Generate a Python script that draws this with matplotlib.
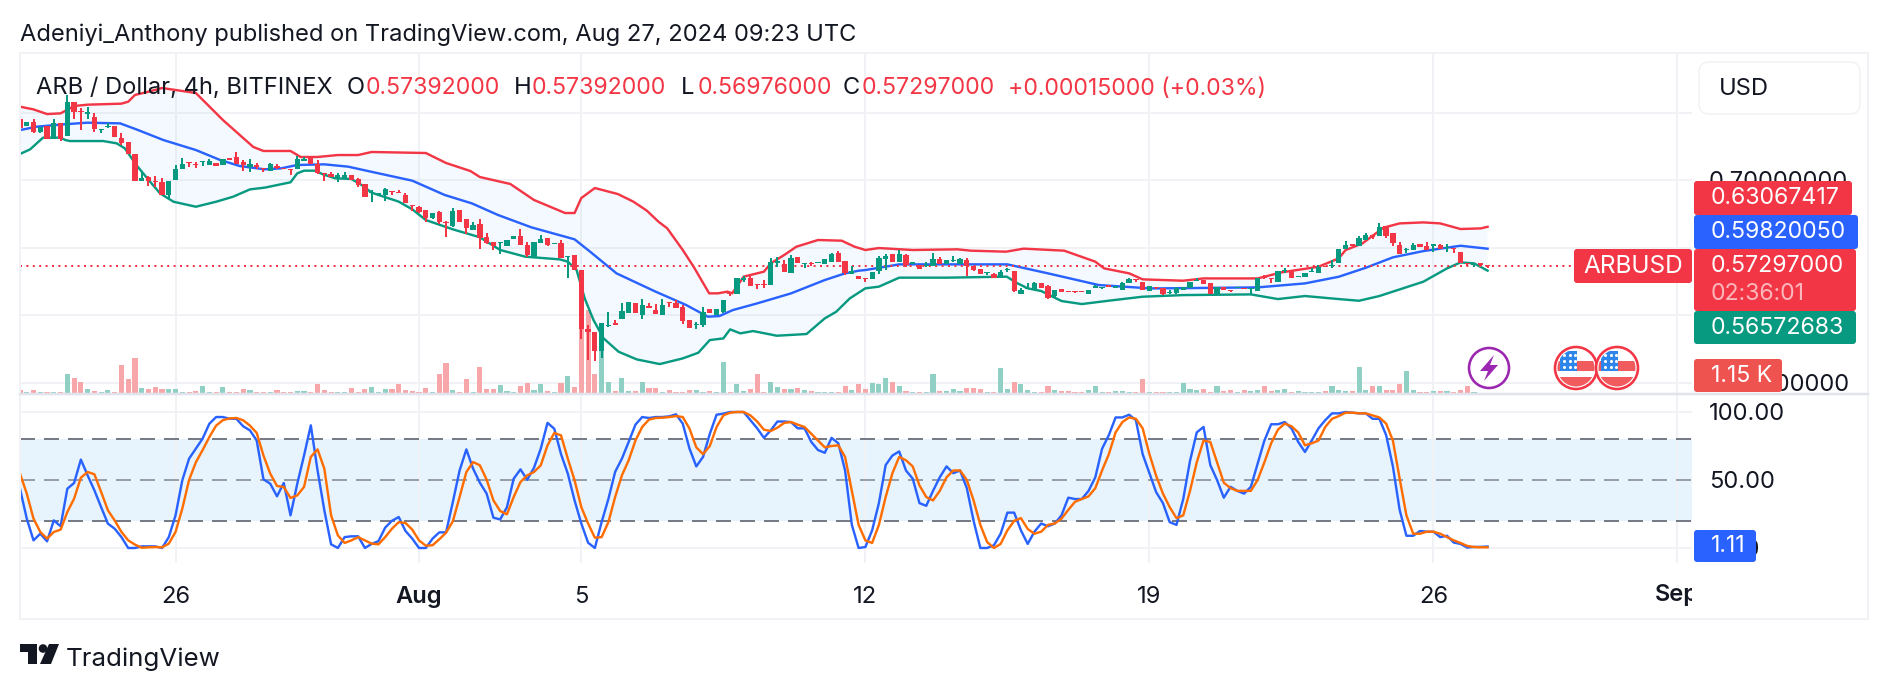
import matplotlib
matplotlib.use("Agg")
import matplotlib.pyplot as plt
import numpy as np
from matplotlib.patches import Circle, FancyBboxPatch, Polygon, Rectangle

plt.rcParams['font.family'] = ['Inter', 'DejaVu Sans']

# ---------- 4h candles, ARB / Dollar ----------
opens = [
 .7898,.78,.7854,.7716,.78,.7602,.7849,.7656,.8155,.8017,
 .7977,.7928,.7745,.778,.78,.7617,.7563,.7385,.6989,.7039,
 .6989,.6965,.6777,.6999,.7157,.7261,.7236,.7261,.7226,.7251,
 .7226,.732,.7335,.7271,.7187,.7222,.7182,.7134,.7208,.7183,
 .7158,.7158,.7287,.7336,.7237,.7109,.7094,.7035,.7025,.7074,
 .701,.6941,.6803,.6783,.6783,.6842,.6822,.6783,.663,.6605,
 .6556,.6442,.6531,.6378,.6318,.6556,.6417,.6259,.6348,.6151,
 .6086,.6062,.6027,.6121,.6165,.6032,.5854,.6062,.6136,.6047,
 .6062,.5854,.5888,.5666,.4792,.4752,.4466,.4836,.4881,.494,
 .5034,.5172,.5,.5138,.5073,.5,.5197,.5177,.5113,.492,
 .4846,.4846,.5083,.5,.5049,.533,.531,.5518,.5553,.5464,
 .5459,.5444,.5775,.575,.5627,.5859,.575,.577,.5765,.576,
 .579,.5913,.5795,.5612,.5572,.5553,.5528,.5656,.5824,.5898,
 .579,.5889,.575,.5745,.5726,.5726,.5829,.5755,.5795,.576,
 .5814,.5726,.5681,.5617,.5612,.5543,.5661,.5651,.5316,.538,
 .538,.5474,.5429,.5286,.5385,.5355,.536,.535,.5316,.5395,
 .5395,.5444,.5395,.5375,.5479,.5528,.5493,.536,.5419,.5399,
 .533,.532,.5365,.5399,.5498,.5523,.5468,.5305,.5419,.5374,
 .5394,.5394,.5384,.536,.5567,.5547,.5493,.5646,.5656,.5557,
 .5567,.5636,.5626,.573,.5725,.5775,.5977,.6046,.6026,.6115,
 .6185,.6175,.6313,.6214,.6036,.5962,.5962,.6051,.6022,.6026,
 .6036,.5997,.5992,.5938,.5775,.574,.5765,.57392]
highs = [
 .7913,.7859,.7898,.779,.78,.7898,.7849,.826,.8155,.806,
 .8076,.7987,.776,.7839,.78,.7691,.7563,.7385,.7108,.7059,
 .7059,.7024,.6989,.7217,.732,.7261,.7266,.7276,.7305,.7251,
 .7315,.732,.7414,.7296,.7305,.7246,.7182,.7247,.7237,.7183,
 .7158,.7356,.7336,.7336,.7297,.7109,.7124,.7099,.7114,.7074,
 .7035,.6941,.6852,.6812,.6887,.6842,.6852,.6812,.663,.662,
 .6556,.6506,.6546,.6397,.6585,.6556,.6417,.6383,.6417,.621,
 .6086,.6076,.6111,.6165,.6269,.6086,.6081,.6185,.6136,.6071,
 .6111,.5874,.5888,.5666,.4851,.4752,.4876,.5039,.4925,.5172,
 .5187,.5172,.5231,.5182,.5162,.5231,.5197,.5222,.5143,.492,
 .49,.5113,.5083,.5088,.5217,.533,.5543,.5582,.5577,.5464,
 .5518,.5839,.5854,.5814,.5888,.5859,.5765,.579,.5785,.5829,
 .5923,.5953,.5795,.5726,.5572,.5553,.5642,.5869,.5903,.5898,
 .5963,.5903,.578,.5745,.578,.5913,.5854,.581,.5869,.5849,
 .5849,.5726,.5681,.5637,.5627,.5666,.5701,.5651,.5404,.5469,
 .5493,.5474,.5444,.5365,.5385,.5355,.536,.535,.537,.5444,
 .5409,.5444,.5429,.5484,.5553,.5528,.5493,.5429,.5419,.5399,
 .5374,.5414,.5414,.5493,.5542,.5523,.5468,.5419,.5419,.5374,
 .5414,.5394,.5404,.5552,.5592,.5547,.5646,.5691,.5656,.5577,
 .5617,.5691,.574,.573,.5814,.5972,.6096,.6046,.617,.6209,
 .6185,.6357,.6313,.6214,.6076,.5997,.6066,.6051,.6086,.6046,
 .6051,.6046,.5992,.5938,.5775,.5775,.5765,.57392]
lows = [
 .775,.78,.7691,.7691,.7602,.7602,.7577,.7656,.7898,.774,
 .7908,.7711,.7701,.7765,.7631,.7518,.7385,.6989,.6989,.691,
 .6891,.6772,.6728,.6999,.7157,.7197,.7172,.7207,.7226,.7212,
 .7226,.73,.7236,.7137,.7118,.7157,.7113,.7134,.7158,.7168,
 .7074,.7158,.7287,.7237,.7084,.6985,.704,.6975,.7025,.7,
 .6901,.6753,.6669,.6763,.6689,.6778,.6803,.6654,.6546,.6516,
 .6383,.6427,.6348,.616,.6299,.6383,.62,.6259,.5982,.6052,
 .5963,.5899,.6027,.6121,.6042,.5864,.5854,.6062,.6022,.6047,
 .584,.5553,.5666,.4644,.4332,.4323,.4367,.4817,.4856,.494,
 .5034,.5024,.4945,.5108,.5019,.5,.5113,.5103,.4866,.4812,
 .4797,.4826,.5034,.5,.5024,.5286,.531,.5493,.5434,.538,
 .5404,.5444,.5716,.5641,.5627,.5775,.5701,.5725,.5765,.576,
 .579,.579,.5592,.5607,.5528,.5493,.5528,.5612,.5666,.579,
 .579,.5716,.575,.5686,.5716,.5726,.576,.5755,.579,.576,
 .5582,.5651,.5607,.5592,.5543,.5543,.5642,.5345,.5316,.538,
 .538,.5404,.5236,.5246,.5345,.5335,.533,.5335,.5316,.5395,
 .538,.5409,.5395,.5375,.5479,.5484,.537,.536,.538,.5295,
 .5305,.5305,.5365,.5399,.5498,.5454,.5315,.5305,.537,.534,
 .5394,.538,.5305,.536,.5528,.5478,.5493,.5617,.5552,.5557,
 .5567,.5636,.5626,.5715,.5691,.5775,.5977,.6026,.6026,.6115,
 .6125,.6175,.6145,.6022,.5903,.5913,.5962,.6002,.5962,.5938,
 .5972,.5938,.5913,.5765,.5725,.5715,.5725,.56976]
closes = [
 .7765,.7859,.7716,.779,.7602,.7849,.7602,.8155,.8012,.8002,
 .8007,.7755,.776,.78,.7631,.7543,.7385,.6989,.7024,.6989,
 .6975,.6782,.6989,.7157,.7236,.7246,.7222,.7276,.7276,.7212,
 .7315,.73,.7236,.7217,.7236,.7192,.7167,.7237,.7173,.7168,
 .7143,.7311,.7311,.7237,.7109,.7084,.704,.7069,.7074,.7,
 .6926,.6753,.6817,.6812,.6862,.6827,.6803,.6654,.6615,.6531,
 .6432,.6506,.6383,.6358,.6536,.6383,.6284,.6333,.6136,.6071,
 .6022,.6076,.6111,.6165,.6042,.5889,.6081,.6131,.6037,.6071,
 .584,.5874,.5666,.4792,.4752,.4466,.4876,.4856,.4856,.5059,
 .5187,.5024,.5143,.5108,.5019,.5148,.5182,.5103,.4915,.4812,
 .4861,.5049,.5034,.5088,.5217,.531,.5543,.5553,.5434,.5449,
 .5444,.578,.5804,.5641,.5839,.5775,.5765,.575,.5785,.5829,
 .5908,.579,.5627,.5656,.5528,.5538,.5642,.5849,.5879,.579,
 .5903,.574,.578,.5686,.5745,.5829,.576,.581,.5805,.5824,
 .573,.5666,.5607,.5637,.5543,.5632,.5686,.5355,.537,.5404,
 .5469,.5404,.5246,.5365,.5345,.5335,.5345,.5335,.537,.5424,
 .5409,.5409,.5429,.5469,.5533,.5513,.537,.5429,.5394,.5315,
 .5345,.5394,.5414,.5493,.5518,.5454,.5315,.5419,.537,.536,
 .5414,.538,.5404,.5552,.5542,.5528,.5646,.5661,.5552,.5577,
 .5617,.5656,.5715,.5715,.574,.5972,.6036,.6026,.6145,.6185,
 .616,.6303,.617,.6071,.5903,.5977,.6041,.6002,.5962,.6046,
 .5972,.6012,.5972,.5765,.576,.575,.574,.57297]
# traded volume per bar, thousands
volumes = [
 4.6,2.3,4.6,1.9,1.9,2.3,1.9,23,18.4,13.8,
 5.7,3.4,2.3,4.6,1.9,33.3,17.2,41.4,6.9,5.7,
 8,5.7,5.7,5.7,2.3,2.3,3.1,9.2,2.3,2.3,
 8,1.9,2.3,5.7,4.6,2.3,2.3,2.3,4.6,2.3,
 2.3,3.4,3.4,2.3,11.5,4.6,2.3,1.9,1.9,6.9,
 2.3,5.7,8,2.3,5.7,5.7,11.5,4.6,3.4,2.3,
 6.9,2.3,23,35.6,4.6,2.3,17.2,2.3,31,5.7,
 5.7,10.3,3.4,2.3,9.2,12.6,4.6,11.5,3.4,2.3,
 12.6,20.7,8,85,96.5,23.4,54,13.8,3.4,18.4,
 3.4,3.4,13.8,6.9,6.9,2.3,4.6,2.3,2.3,4.6,
 4.6,2.3,3.4,2.3,36.8,2.3,11.5,3.4,5.7,23,
 2.3,13.8,8,5.7,5.7,6.9,4.6,3.4,2.3,2.3,
 2.3,2.3,9.2,4.6,11.5,5.7,12.6,11.5,18.4,13.8,
 9.2,3.4,2.3,2.3,2.3,23,3.4,3.4,5.7,3.4,
 6.9,6.9,5.7,2.3,2.3,29.9,5.7,13.8,11.5,4.6,
 2.3,2.3,9.2,4.6,3.4,3.4,2.3,2.3,4.6,9.2,
 2.3,2.3,3.4,3.4,2.3,2.3,17.2,2.3,2.3,2.3,
 2.3,2.3,12.6,5.7,4.6,5.7,2.3,9.2,3.4,4.6,
 2.3,4.6,3.4,4.6,9.2,3.4,4.6,5.7,2.3,3.4,
 2.3,2.3,2.3,3.4,9.2,4.6,3.4,3.4,31,4.6,
 9.2,9.2,4.6,4.6,11.1,26,4.2,2.3,2.3,3.4,
 3.1,3.1,2.3,4.2,9.2,2.3,1.5,1.15]

# ---------- Bollinger bands: bar number and price of each line vertex ----------
upper_bars = [0,2,4,6,8,10,15,16,17,19,21,26,30,32,34.5,36,40,41.5,44,47,50,52,60,63,66.6,68,72.5,76,80.6,82,83,85,
              88.4,90.7,92.7,94.4,95.7,98,99.6,101.9,103.2,104.6,105.3,107,110,111,113,114.8,118,121.5,123.4,125,127,
              132,138.6,140.6,145.8,148.4,154.4,159,160.3,164,166,172,175,183,186.5,192,195,196,198.5,201.6,204,207.5,
              210,213,216,217]
upper_vals = [.8086,.8046,.7977,.7987,.8096,.8116,.8131,.816,.826,.8308,.8363,.8289,.7889,.7711,.7489,.743,.743,.7341,
              .7341,.737,.737,.7415,.74,.7252,.7133,.7044,.6941,.6704,.6511,.6511,.6733,.6881,
              .6792,.6679,.6545,.6383,.6284,.5963,.5716,.5321,.5321,.5346,.5321,.5568,.5642,.5765,.5889,.6012,.6111,
              .6101,.6012,.5963,.5992,.5963,.5973,.5953,.5938,.5983,.5953,.579,.5691,.5617,.5528,.5508,.5542,.5542,
              .5631,.5715,.5839,.5962,.6061,.6293,.6357,.6372,.6357,.6274,.6283,.63067417]
middle_bars = [0,2.5,6.4,9.9,14.8,17.2,21.2,26,29.6,32.5,36.2,38.6,41,45,48.5,53,58,62.8,66.8,70.7,75.6,82,84.3,88.2,94,
               98.5,101.7,103.4,105.4,109,114,119,122,124,125,130,137,146,152,159.5,167,168,183,190,195,199,203,207.5,213,217]
middle_vals = [.774,.779,.7824,.7849,.7839,.775,.7592,.7444,.7296,.7207,.7158,.7173,.7222,.7232,.7198,.7099,.699,.6778,
               .6654,.6481,.6299,.6121,.5938,.5617,.5345,.5148,.4975,.4984,.5073,.5172,.532,.5518,.5617,.5656,.5666,
               .575,.575,.575,.5617,.5444,.5395,.5394,.5409,.5468,.5567,.57,.5854,.5947,.6026,.5982005]
lower_bars = [0,1.5,3.4,6,6.7,7.4,12.3,14.3,15.5,17.2,18.7,20.7,22.7,26,29,31.5,34,36.2,40,41,42,43.6,44.8,46.6,49,50.5,
              52,56,58,60,64,68,71,74.7,79.8,81,82.3,83.5,84.8,86.3,88.5,91.2,94.6,98,100.3,102,104,105,106.5,108.4,
              111.9,116.3,119,120.7,122.7,125,127,130,137,145.9,147.5,149,151,154,157,161,166,172,182,186,190,195,198,
              201,207.5,211,213,215,217]
lower_vals = [.7385,.7454,.7627,.7627,.7592,.7577,.7577,.7543,.7469,.7222,.7039,.6802,.6678,.6604,.6678,.6752,.6861,.6887,
              .6966,.7099,.7138,.7138,.7084,.7025,.7015,.6926,.6812,.6679,.6566,.6407,.6269,.6151,.5963,.5864,.5824,
              .579,.5666,.5246,.4925,.4653,.4456,.4342,.4273,.4357,.4441,.4629,.4653,.4787,.4728,.4762,.4693,.4718,
              .495,.5049,.5246,.5395,.542,.5553,.5553,.5568,.5469,.5395,.5355,.5207,.5162,.5212,.5271,.5295,.5305,
              .5236,.5281,.5236,.5211,.5281,.5493,.569,.5779,.5765,.56572683]

# ---------- Stochastic oscillator, one value per bar ----------
stoch_k = [
 43.6,21.6,5.6,10.5,4.9,20.3,16,43.6,47.8,65,
 53.4,42.4,30,17.9,14.2,8,0,0,1.2,1.2,
 1.2,0,8,24,49.8,65.7,73,80.4,91.4,96.3,
 96.3,95,95,89.5,86.5,79,50.5,47.3,38,47.8,
 24,47.3,68,90.2,57,27.7,2.7,0,8,8.6,
 8.6,0,3,5,15,20,22.8,12.5,6.9,0,
 0,6.9,11.5,11.5,33.8,57,72.5,58.3,48,40,
 22.3,21,30,51,57.8,50.2,59,73,92,87.7,
 69,54.7,35,18,3.9,0,19,36,56,65.7,
 78,90.7,96.3,95.6,96.3,96.3,96.8,98.3,91.4,73,
 60,67,84,98,98.8,100,100,100,94,88,
 81,86.5,93,93,92.6,88,88,78,72,70,
 81,77,57,17,0,0.7,13,33,61,68,
 71,57,51,33,31,42,52,60,55,57,
 44,20,0,0,2,10.5,26,26,13,3,
 12,18,16,18,24,37,36,36,42,52,
 73,83,96,96,98,94,69,55,41,33,
 19,17,36,64,85,89,61,50,37,45,
 42,40,45,62,79,91,91,92.6,88,78,
 70.6,79,88,94,99,99,100,99.5,99,99,
 95,95,83,60,28,9,9,12.5,12,12,
 8,9,4,3,0.3,0.8,0.8,1.11]
stoch_d = [
 54.7,40,21.6,11.8,6.9,11.8,13.5,26.5,36.3,51.7,
 55.9,54.2,41.2,27.7,20.3,11.8,5.6,2.5,0.2,0.5,
 0.7,0.5,3.2,11.8,29,50,63,72,81.6,90,
 94,95.3,95.6,93.9,90,84.6,68,54.7,45.6,44.9,
 36.8,38.7,44.9,67,72.5,58.3,24,9.3,3.7,5.6,
 8,5.6,3.2,2.7,8,14.2,19,18.4,13.5,5.6,
 1.7,2,6.4,11.3,19.6,37.5,55.9,63.2,60.8,50.2,
 35,27.2,24.8,37.5,48.5,53.4,55.9,60.8,75.5,84.6,
 82.8,65.7,49.8,30,18,7.6,8,19,37.5,53.4,
 64.5,79,89,94.4,95.6,95.8,96.3,97,96.3,87.7,
 74,69,75,89,97.5,99.5,100,100,97.5,93,
 87,86,88.5,92,92.6,90.7,89,84,79,74,
 75,75.5,67,42,17,5.6,3.7,17,37.5,55,
 67,64.5,60,46,37.5,35,42,52,57,57,
 50,35,17,4.4,0,3,13,20,22,14,
 10.5,12,17,18,21.6,28,34,36,38,44,
 57,69,85,92.6,96,95,88,69,53,40,
 30,22,24,42,63,79,78,63,48,44,
 42,42,42,50,63,77,87,91.5,89.5,85,
 75.5,77,79,89,95,97,99.5,99.5,99,99,
 97.5,96,91.5,79,51,24,10.5,10.5,12,12,
 10.5,8,5.6,3.7,1.5,0.7,0.5,0.5]

# ---------- Axis labels ----------
time_ticks = [23, 59, 83, 125, 167, 209, 245]
time_labels = ['26', 'Aug', '5', '12', '19', '26', 'Sep']
price_grid = [0.8, 0.7, 0.6, 0.5, 0.4]
price_scale = [0.7, 0.4]
price_labels = ['0.70000000', '0.40000000']
stoch_grid = [100, 0]
stoch_scale = [100, 50, 0]
stoch_labels = ['100.00', '50.00', '0.00']
stoch_levels = [80, 50, 20]

# ---------- Palette ----------
UP, DOWN, BLUE, ORANGE = '#089981', '#F23645', '#2962FF', '#FF6D00'
VOL_UP, VOL_DOWN = '#90CFC4', '#F7A6A9'
GRID, INK = '#F1F2F5', '#131722'
FS = 17.05           # main text size in points
NUM = 16.65          # coloured numbers in the legend and the price tags
px = 0.72            # one pixel in points at dpi 100
LINE = 2.4 * px

W, H = 1888, 690
fig = plt.figure(figsize=(W / 100, H / 100), dpi=100, facecolor='white')


def pane(left, top, right, bottom, z):
    a = fig.add_axes([left / W, 1 - bottom / H, (right - left) / W, (bottom - top) / H], zorder=z)
    a.patch.set_alpha(0)
    for s in a.spines.values():
        s.set_visible(False)
    return a


X_RANGE = (0, (1692 - 20) / 6.763)
P_RANGE = (.7 - (394 - 180) / 675, .7 + (180 - 53) / 675)
S_RANGE = ((548 - 563) / 1.36, (548 - 395) / 1.36)
bars = np.arange(len(closes))

# Base pane: grid and price scale
base = pane(20, 53, 1692, 394, 1)
base.set_xlim(X_RANGE)
base.set_ylim(P_RANGE)
base.yaxis.tick_right()
base.set_yticks(price_scale, price_labels, fontsize=FS, color=INK)
base.tick_params(length=0)
base.tick_params(axis='y', pad=17 * px)
base.tick_params(axis='x', labelbottom=False, bottom=False)
for g in price_grid:
    base.axhline(g, color=GRID, lw=2 * px, zorder=0)
for t in time_ticks:
    base.axvline(t, color=GRID, lw=2 * px, zorder=0)

# Volume pane
vol = pane(20, 53, 1692, 394, 2)
vol.set_xlim(X_RANGE)
vol.set_ylim(0, 341 / 0.87)
vol.axis('off')
rising = np.array(closes) >= np.array(opens)
vol.bar(bars, volumes, width=0.76, color=[VOL_UP if r else VOL_DOWN for r in rising])

# Price pane: bands, last price and candles
ax = pane(20, 53, 1692, 394, 3)
ax.set_xlim(X_RANGE)
ax.set_ylim(P_RANGE)
ax.axis('off')
ax.fill(np.r_[upper_bars, lower_bars[::-1]], np.r_[upper_vals, lower_vals[::-1]], color='#2196F3', alpha=0.05, lw=0)
ax.plot(upper_bars, upper_vals, color=DOWN, lw=LINE, solid_joinstyle='round')
ax.plot(lower_bars, lower_vals, color=UP, lw=LINE, solid_joinstyle='round')
ax.plot(middle_bars, middle_vals, color=BLUE, lw=LINE, solid_joinstyle='round')
ax.plot([0, (1574 - 20) / 6.763], [closes[-1]] * 2, color=DOWN, lw=2 * px, ls=(0, (1, 2.2)), clip_on=False)
colors = [UP if r else DOWN for r in rising]
ax.vlines(bars, lows, highs, colors=colors, lw=2 * px, zorder=4)
body_low = np.minimum(opens, closes)
body_h = np.maximum(np.abs(np.array(closes) - np.array(opens)), 0.0014)
ax.bar(bars, body_h, bottom=body_low, width=0.78, color=colors, lw=0, zorder=4)

# Stochastic pane
st = pane(20, 395, 1692, 563, 2)
st.set_xlim(X_RANGE)
st.set_ylim(S_RANGE)
st.axhspan(stoch_levels[2], stoch_levels[0], color='#E7F4FD', lw=0, zorder=0)
st.yaxis.tick_right()
st.set_yticks(stoch_scale, stoch_labels, fontsize=FS, color=INK)
st.set_xticks(time_ticks[:-1], time_labels[:-1], fontsize=FS, color=INK)
st.tick_params(length=0)
st.tick_params(axis='y', pad=17 * px)
st.tick_params(axis='x', pad=23 * px)
for g in stoch_grid:
    st.axhline(g, color=GRID, lw=2 * px, zorder=1)
for t in time_ticks:
    st.axvline(t, color=GRID, lw=2 * px, zorder=1)
for lbl in st.get_xticklabels():
    if lbl.get_text() == 'Aug':
        lbl.set_fontweight('semibold')
for lev in stoch_levels:
    st.axhline(lev, color='#787B86', alpha=0.7 if lev == 50 else 1, lw=2 * px, ls=(0, (7.5, 4.5)), zorder=2)
st.plot(bars, stoch_k, color=BLUE, lw=LINE, zorder=3)
st.plot(bars, stoch_d, color=ORANGE, lw=LINE, zorder=4)

# Overlay in pixel units: frame, legend, price tags, event icons, branding
ov = fig.add_axes([0, 0, 1, 1], zorder=5)
ov.set_xlim(0, W)
ov.set_ylim(H, 0)
ov.axis('off')
ov.patch.set_alpha(0)
ov.add_patch(Rectangle((20, 53), 1848, 566, fill=False, ec=GRID, lw=2 * px))
ov.plot([20, 1868], [394, 394], color='#E0E3EB', lw=2.5 * px)


def text(x, y, s, color=INK, ha='left', size=FS, **kw):
    return ov.text(x, y + 1.5, s, color=color, ha=ha, va='center', fontsize=size, **kw)


text(20, 33, 'Adeniyi_Anthony published on TradingView.com, Aug 27, 2024 09:23 UTC')
text(36, 87, 'ARB / Dollar, 4h, BITFINEX')
for letter, lx, value, vx in [('O', 347, opens[-1], 366), ('H', 514, highs[-1], 532),
                              ('L', 681, lows[-1], 698), ('C', 843, closes[-1], 862)]:
    text(lx, 87, letter)
    text(vx, 87, f'{value:.8f}', color=DOWN, size=NUM)
text(1008, 87, '+0.00015000 (+0.03%)', color=DOWN, size=NUM)

# Last time label is cut off where the pane ends
sep = text(time_ticks[-1] * 6.763 + 20, 593.5, time_labels[-1], ha='center', fontweight='semibold')
sep.set_clip_on(True)
sep.set_clip_path(Rectangle((1600, 563), 92, 56, transform=ov.transData))

ov.add_patch(FancyBboxPatch((1699 + 10, 62 + 10), 141, 32, boxstyle='round,pad=10', fc='white', ec=GRID, lw=1.5 * px))
text(1719, 87.5, 'USD')


def tag(x0, y0, x1, y1, color):
    ov.add_patch(FancyBboxPatch((x0 + 3, y0 + 3), x1 - x0 - 6, y1 - y0 - 6, boxstyle='round,pad=3',
                                fc=color, ec='none'))


tag(1694, 181, 1852, 215, DOWN)
text(1711, 197, f'{upper_vals[-1]:.8f}', color='white', size=NUM)
tag(1694, 215, 1858, 249, BLUE)
text(1711, 231, f'{middle_vals[-1]:.8f}', color='white', size=NUM)
tag(1694, 249, 1856, 311, DOWN)
text(1711, 265, f'{closes[-1]:.8f}', color='white', size=NUM)
text(1711, 293, '02:36:01', color='#FBB6BC', size=NUM)
tag(1694, 311, 1856, 344, UP)
text(1711, 327, f'{lower_vals[-1]:.8f}', color='white', size=NUM)
tag(1574, 249, 1692, 283, DOWN)
text(1633, 265, 'ARBUSD', color='white', ha='center', size=FS + 0.5)
tag(1694, 359, 1782, 392, '#EF5350')
text(1711, 375, f'{volumes[-1]:.2f} K', color='white', size=NUM)
tag(1694, 530, 1756, 562, BLUE)
text(1711, 545, f'{stoch_k[-1]:.2f}', color='white', size=NUM)

# Event markers on the volume strip
ov.add_patch(Circle((1489, 368), 20, fc='white', ec='#9C27B0', lw=2.6 * px))
ov.add_patch(Polygon([(1494, 355), (1480, 371), (1488, 371), (1484, 381), (1498, 365), (1490, 365)], fc='#9C27B0', ec='none'))
for cx in (1576, 1617):
    ov.add_patch(Circle((cx, 368), 21, fc='white', ec=DOWN, lw=2.6 * px, zorder=3))
    clip = Circle((cx, 368), 18.5, transform=ov.transData)
    for r, c in [((cx - 19, 361, 38, 10), '#F05B5E'), ((cx - 19, 377, 38, 12), '#F05B5E'), ((cx - 16, 351, 17, 20), '#2F86EA')]:
        p = Rectangle(r[:2], r[2], r[3], fc=c, ec='none', zorder=4)
        ov.add_patch(p)
        p.set_clip_path(clip)
    for yy in (355, 361, 367):
        for col in range(3):
            ov.plot(cx - 12 + 5.5 * col, yy, 'o', color='white', ms=2.2, mew=0, zorder=5)

# TradingView wordmark
ov.add_patch(Polygon([(20, 644), (37, 644), (37, 664), (28, 664), (28, 652), (20, 652)], fc=INK, ec='none'))
ov.add_patch(Circle((43, 648.5), 4.3, fc=INK, ec='none'))
ov.add_patch(Polygon([(49, 644), (59, 644), (51, 664), (40, 664)], fc=INK, ec='none'))
text(66, 658, 'TradingView', size=FS + 1.6)

fig.savefig('out.png', dpi=100, facecolor='white')
